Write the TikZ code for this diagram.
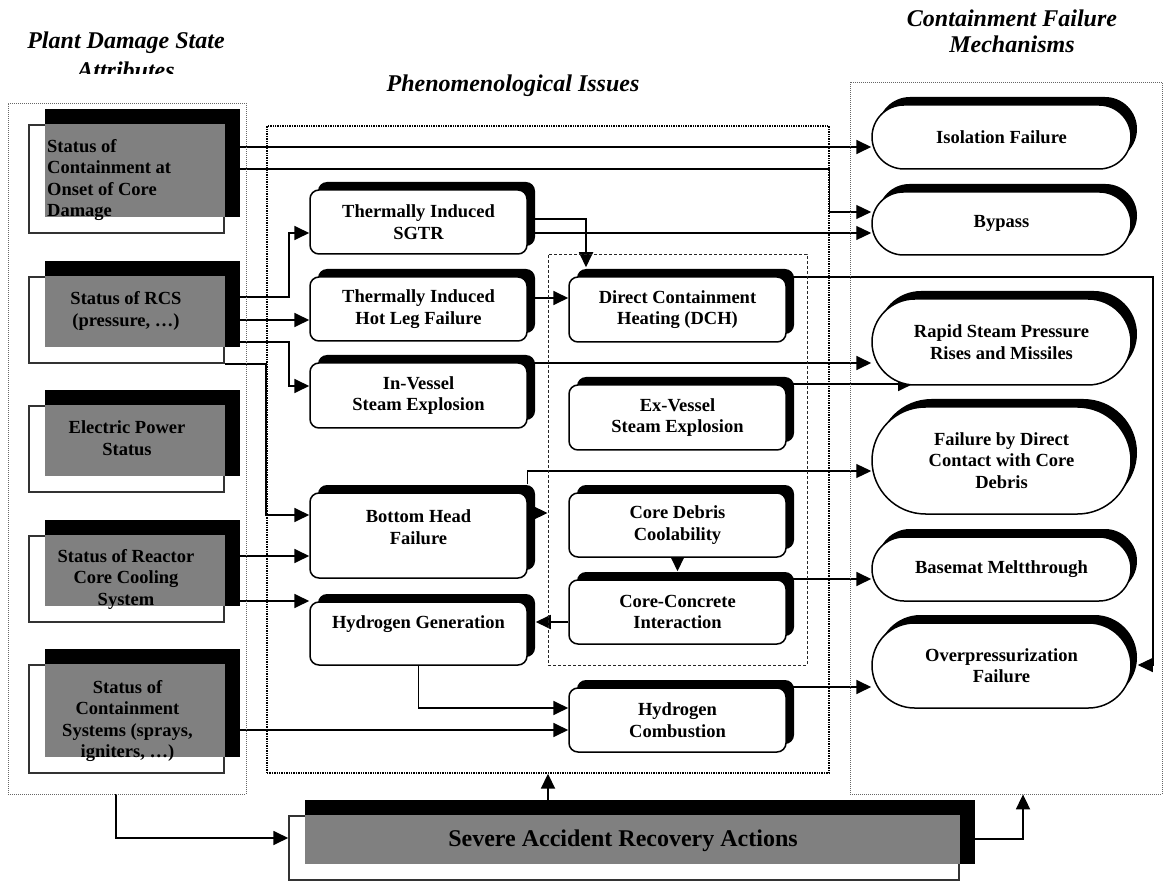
\documentclass[tikz,border=0pt]{standalone}
\usepackage{fontspec}
\setmainfont{Liberation Serif}
\usetikzlibrary{arrows.meta,shapes.misc,shadows,backgrounds,calc}
\begin{document}
\begin{tikzpicture}[x=1pt,y=-1pt,
  txt/.style={font=\fontsize{18.5}{21.5}\selectfont\bfseries, text=black, align=center, inner sep=0pt},
  ttl/.style={font=\fontsize{24}{27}\selectfont\bfseries\itshape, inner sep=0pt, anchor=base},
  lbox/.style={draw=black!80, line width=1.5pt, minimum width=195, inner sep=0pt},
  lshad/.style={fill=black, minimum width=195, inner sep=0pt},
  lgray/.style={fill=black!50},
  rbox/.style={draw, fill=white, line width=1.5pt, rounded corners=9pt, minimum width=217, minimum height=64, inner sep=0pt, drop shadow={shadow xshift=8pt, shadow yshift=8pt, fill=black, opacity=1}, txt},
  sbox/.style={rounded rectangle, draw, fill=white, line width=1.5pt, minimum width=259, inner sep=0pt, drop shadow={shadow xshift=6pt, shadow yshift=8pt, fill=black, opacity=1}, txt},
  dotbox/.style={draw=black!60, line width=0.8pt, dash pattern=on 1pt off 1pt, inner sep=0pt},
  phenbox/.style={draw=black, line width=1.4pt, dash pattern=on 1.4pt off 1pt, inner sep=0pt},
  innerbox/.style={draw=black!85, line width=0.9pt, dash pattern=on 3pt off 2pt, inner sep=0pt},
  conn/.style={line width=1.8pt, -{Triangle[length=15pt,width=14pt]}},
  thin/.style={line width=1.2pt}
]
\useasboundingbox (0,0) rectangle (1165,882);

% titles
\node[ttl] (t1a) at (126,49) {Plant Damage State};
\begin{scope}
\clip (0,0) rectangle (260,74);
\node[ttl] (t1b) at (126,79) {Attributes};
\end{scope}
\node[ttl] (t2) at (513,92) {Phenomenological Issues};
\node[ttl] (t3a) at (1012,27) {Containment Failure};
\node[ttl] (t3b) at (1012,53) {Mechanisms};

% grouping boxes
\node[dotbox, minimum width=238, minimum height=691] (pds) at (127,448.5) {};
\node[phenbox, minimum width=562, minimum height=647] (phen) at (548,449.5) {};
\node[innerbox, minimum width=259, minimum height=411] (inner) at (677.5,459.5) {};
\node[dotbox, minimum width=312, minimum height=712] (cfm) at (1006,438) {};

% left column
\node[lbox, minimum height=108] (L1) at (126.5,179) {};
\node[lshad, minimum height=108] (L1s) at (142.5,163) {};
\fill[lgray] (L1s.west |- L1.north) rectangle (L1.east |- L1s.south);
\node[txt, anchor=west, align=left] (L1t) at (47,180) {Status of\\Containment at\\Onset of Core\\Damage};

\node[lbox, minimum height=86] (L2) at (126.5,320) {};
\node[lshad, minimum height=86] (L2s) at (142.5,304) {};
\fill[lgray] (L2s.west |- L2.north) rectangle (L2.east |- L2s.south);
\node[txt] (L2t) at (126,311) {Status of RCS\\(pressure, …)};

\node[lbox, minimum height=86] (L3) at (126.5,449) {};
\node[lshad, minimum height=86] (L3s) at (142.5,433) {};
\fill[lgray] (L3s.west |- L3.north) rectangle (L3.east |- L3s.south);
\node[txt] (L3t) at (127,438) {Electric Power\\Status};

\node[lbox, minimum height=86] (L4) at (126.5,579) {};
\node[lshad, minimum height=86] (L4s) at (142.5,563) {};
\fill[lgray] (L4s.west |- L4.north) rectangle (L4.east |- L4s.south);
\node[txt] (L4t) at (126,579) {Status of Reactor\\Core Cooling\\System};

\node[lbox, minimum height=108] (L5) at (126.5,719) {};
\node[lshad, minimum height=108] (L5s) at (142.5,703) {};
\fill[lgray] (L5s.west |- L5.north) rectangle (L5.east |- L5s.south);
\node[txt] (L5t) at (127.5,721) {Status of\\Containment\\Systems (sprays,\\igniters, …)};

% bottom
\node[lbox, minimum width=670, minimum height=64] (sar) at (624,848) {};
\node[lshad, minimum width=670, minimum height=64] (sarS) at (640,832) {};
\fill[lgray] (sarS.west |- sar.north) rectangle (sar.east |- sarS.south);
\node[font=\fontsize{24}{27}\selectfont\bfseries, inner sep=0pt] (sart) at (623,841) {Severe Accident Recovery Actions};

% middle column
\node[rbox] (sgtr) at (418.5,222) {Thermally Induced\\SGTR};
\node[rbox] (hot) at (418.5,309) {Thermally Induced\\Hot Leg Failure};
\node[rbox, minimum height=65] (inv) at (418.5,395.5) {In-Vessel\\Steam Explosion};
\node[rbox, minimum height=85] (bhf) at (418.5,535.5) {};
\node[txt] (bhft) at (418.5,527) {Bottom Head\\Failure};
\node[rbox, minimum height=63] (h2g) at (418.5,633.5) {};
\node[txt] (h2gt) at (418.5,624) {Hydrogen Generation};
\node[rbox, minimum height=65] (dch) at (677.5,309.5) {Direct Containment\\Heating (DCH)};
\node[rbox, minimum height=65] (exv) at (677.5,417.5) {Ex-Vessel\\Steam Explosion};
\node[rbox] (cdc) at (677.5,525) {Core Debris\\Coolability};
\node[rbox] (cci) at (677.5,612) {Core-Concrete\\Interaction};
\node[rbox] (h2c) at (677.5,720) {Hydrogen\\Combustion};

% right column
\node[sbox, minimum height=64] (iso) at (1001.5,137) {Isolation Failure};
\node[sbox, minimum height=63] (byp) at (1001.5,223.5) {Bypass};
\node[sbox, minimum height=86] (rsp) at (1001.5,342) {Rapid Steam Pressure\\Rises and Missiles};
\node[sbox, minimum height=107] (fdc) at (1001.5,460.5) {Failure by Direct\\Contact with Core\\Debris};
\node[sbox, minimum height=64] (bsm) at (1001.5,569) {Basemat Meltthrough};
\node[sbox, minimum height=85] (ovp) at (1001.5,665.5) {Overpressurization\\Failure};

% helper coordinates
\coordinate (h2gR) at ([xshift=8pt]h2g.east);
\coordinate (cciT) at ([yshift=8pt]cci.north);
\coordinate (bhfT) at ([yshift=8pt]bhf.north east);
\coordinate (ovpR) at ([xshift=6pt]ovp.east);
\coordinate (rspIn) at (913,384);

\begin{pgfonlayer}{background}
\draw[conn] (L1.east |- 0,147) -- (iso.west |- 0,147);
\draw[conn,thin] (L1.east |- 0,169) -- (phen.east |- 0,169) -- (phen.east |- 0,212) -- (byp.west |- 0,212);
\draw[conn,thin] (sgtr.east |- 0,233) -- (byp.west |- 0,233);
\draw[conn, shorten >=9pt] (sgtr.east |- 0,219) -- (586,219) -- (586,0 |- dch.north);
\draw[conn] (L2.east |- 0,297) -- (289,297) -- (289,233) -- (sgtr.west |- 0,233);
\draw[conn] (L2.east |- 0,320) -- (hot.west |- 0,320);
\draw[conn] (L2.east |- 0,342) -- (289,342) -- (289,386) -- (inv.west |- 0,386);
\draw[conn] (L2.south east) -- (phen.west |- L2.south) -- (phen.west |- 0,515) -- (bhf.west |- 0,515);
\draw[conn] (L4.east |- 0,556) -- (bhf.west |- 0,556);
\draw[conn] (L4.east |- 0,601) -- (h2g.west |- 0,601);
\draw[conn] (L5.east |- 0,730) -- (h2c.west |- 0,730);
\draw[conn] (h2g.south) |- (h2c.west |- 0,708);
\draw[conn] (cci.west |- 0,622) -- (h2gR |- 0,622);
\draw[conn] (cdc.south) -- (cciT);
\draw[conn] (hot.east |- 0,298) -- (dch.west |- 0,298);
\draw[conn,thin] (bhfT) -- (bhfT |- 0,471) -- (fdc.west |- 0,471);
\draw[conn] (bhf.east |- 0,513) -- (inner.west |- 0,513);
\draw[conn] (inv.east |- 0,363) -- (rsp.west |- 0,363);
\draw[conn] (exv.east |- 0,384) -- (rspIn);
\draw[conn,thin] (dch.east |- 0,277) -- (1153,277) -- (1153,665) -- (ovpR |- 0,665);
\draw[conn] (cci.east |- 0,579) -- (bsm.west |- 0,579);
\draw[conn] (h2c.east |- 0,687) -- (ovp.west |- 0,687);
\draw[conn] (116,0 |- pds.south) -- (116,838) -- (sar.west |- 0,838);
\draw[conn] (phen.south |- sarS.north) -- (phen.south);
\draw[conn] (sarS.east |- 0,839) -- (1023,839) -- (1023,0 |- cfm.south);
\end{pgfonlayer}
\end{tikzpicture}
\end{document}
